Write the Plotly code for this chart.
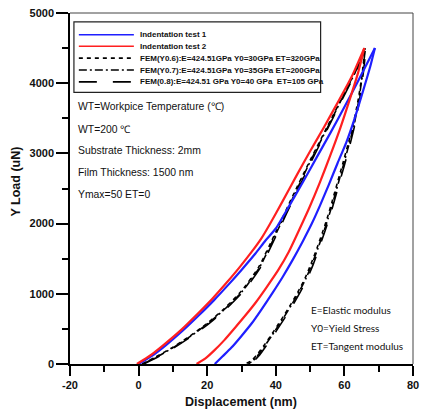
import plotly.graph_objects as go

# ---- measured curves: displacement (nm) vs load (uN) ----
# Indentation test 1 (blue)
t1_load_x = [0, 4, 8, 13, 17.5, 22, 26, 30, 34, 37, 40, 44, 48, 52, 56, 60, 64, 68.9]
t1_load_y = [0, 120, 270, 480, 690, 910, 1120, 1340, 1570, 1760, 1930, 2260, 2600, 2950, 3300, 3660, 4030, 4500]
t1_unload_x = [68.9, 67.5, 65.5, 63, 60.5, 58, 55.5, 53, 50.5, 48, 45, 42, 39, 36, 33, 30, 27, 24.5, 22.2]
t1_unload_y = [4500, 4230, 3900, 3500, 3150, 2860, 2560, 2270, 2000, 1760, 1490, 1240, 1010, 790, 580, 400, 230, 110, 0]

# Indentation test 2 (red)
t2_load_x = [-0.5, 3.5, 7.5, 12.5, 17, 21.5, 25.5, 29.3, 33, 35.8, 38, 42, 46, 50, 54, 58, 62, 65.8]
t2_load_y = [0, 125, 280, 490, 705, 930, 1150, 1370, 1600, 1790, 1970, 2320, 2680, 3030, 3370, 3720, 4080, 4500]
t2_unload_x = [65.8, 64, 61.7, 58.8, 55.8, 52.8, 49.8, 46.8, 43.8, 40.6, 37.4, 34.2, 31.1, 28, 25, 22, 19.5, 16.9]
t2_unload_y = [4500, 4150, 3790, 3360, 2960, 2580, 2230, 1910, 1600, 1330, 1100, 880, 690, 510, 340, 190, 80, 0]

# FEM simulations (loading followed by unloading)
fem_load_y = [0, 100, 240, 400, 580, 790, 1040, 1380, 1880, 2400, 2900, 3380, 3860, 4150, 4500]
fem_unload_y = [4500, 4140, 3760, 3400, 3120, 2850, 2590, 2330, 2080, 1860, 1650, 1430, 1220, 1030,
                860, 700, 550, 400, 260, 130, 40, 0]

fem6_load_x = [1, 5, 10, 15, 20, 25, 30, 35, 40, 45, 50, 55, 60, 63, 66]
fem6_unload_x = [66, 65.2, 64, 62.5, 61, 59.5, 58, 56.5, 55, 53.5, 52, 50.3, 48.5, 46.5,
                 44.5, 42.5, 40.5, 38.5, 36.5, 34.5, 32.7, 31]

fem7_load_x = [1.2, 5.3, 10.3, 15.3, 20.3, 25.3, 30.3, 35.3, 40.3, 45.3, 50.2, 55.2, 60.1, 63.1, 66.1]
fem7_unload_x = [66.1, 65.3, 64.2, 62.8, 61.3, 59.8, 58.3, 56.8, 55.3, 53.8, 52.3, 50.6, 48.8, 46.8,
                 44.8, 42.8, 40.8, 38.8, 36.8, 34.9, 33.2, 32]

fem8_load_x = [1.5, 5.6, 10.6, 15.6, 20.6, 25.6, 30.6, 35.6, 40.6, 45.6, 50.5, 55.4, 60.3, 63.3, 66.3]
fem8_unload_x = [66.3, 65.5, 64.4, 63, 61.6, 60.1, 58.6, 57.1, 55.6, 54.1, 52.6, 51, 49.2, 47.2,
                 45.2, 43.2, 41.2, 39.2, 37.2, 35.3, 33.6, 33]

legend_labels = [
    "Indentation test 1",
    "Indentation test 2",
    "FEM(Y0.6):E=424.51GPa Y0=30GPa ET=320GPa",
    "FEM(Y0.7):E=424.51GPa Y0=35GPa ET=200GPa",
    "FEM(0.8):E=424.51 GPa Y0=40 GPa  ET=105 GPa",
]
legend_colors = ["#1f1fff", "#ff1f1f", "black", "black", "black"]
legend_dashes = ["solid", "solid", "4px,4px", "8px,3px,2px,3px", "18px,16px"]

info_lines = ["WT=Workpice Temperature (℃)", "WT=200 ℃", "Substrate Thickness: 2mm",
              "Film Thickness: 1500 nm", "Ymax=50 ET=0"]
note_lines = ["E=Elastic modulus", "Y0=Yield Stress", "ET=Tangent modulus"]

x_ticks = [-20, 0, 20, 40, 60, 80]
x_tick_text = ["-20", "0", "20", "40", "60", "80"]
y_ticks = [0, 1000, 2000, 3000, 4000, 5000]

W, H = 426, 415
ML, MR, MT, MB = 70, 7, 10, 51
PW, PH = W - ML - MR, H - MT - MB


def px(x):
    return (x - ML) / PW


def py(y):
    return (H - MB - y) / PH


fig = go.Figure()

fem_style = [
    (fem6_load_x + fem6_unload_x, "4px,4px"),
    (fem7_load_x + fem7_unload_x, "8px,3px,2px,3px"),
    (fem8_load_x + fem8_unload_x, "18px,16px"),
]
for fx, dash in fem_style:
    fig.add_trace(go.Scatter(x=fx, y=fem_load_y + fem_unload_y, mode="lines",
                             line=dict(color="black", width=1.6, dash=dash, shape="spline", smoothing=0.6)))

for xs, ys in [(t1_load_x, t1_load_y), (t1_unload_x, t1_unload_y)]:
    fig.add_trace(go.Scatter(x=xs, y=ys, mode="lines",
                             line=dict(color=legend_colors[0], width=2.2, shape="spline", smoothing=0.6)))
for xs, ys in [(t2_load_x, t2_load_y), (t2_unload_x, t2_unload_y)]:
    fig.add_trace(go.Scatter(x=xs, y=ys, mode="lines",
                             line=dict(color=legend_colors[1], width=2.2, shape="spline", smoothing=0.6)))

shapes = []
annotations = []

# legend box
shapes.append(dict(type="rect", xref="paper", yref="paper",
                   x0=px(74), x1=px(325), y0=py(90), y1=py(19),
                   line=dict(color="#222", width=1.2), fillcolor="white"))
rows = [32, 43.5, 55.5, 67.5, 79.5]
for r, lab, col, dash in zip(rows, legend_labels, legend_colors, legend_dashes):
    shapes.append(dict(type="line", xref="paper", yref="paper",
                       x0=px(79), x1=px(135), y0=py(r), y1=py(r),
                       line=dict(color=col, width=1.6, dash=dash)))
    annotations.append(dict(text=lab, xref="paper", yref="paper", x=px(139), y=py(r),
                            xanchor="left", yanchor="middle", showarrow=False,
                            font=dict(family="Arial, Liberation Sans", size=8, color="#111", weight="bold")))

for yy, t in zip([104, 127, 149, 171, 193], info_lines):
    annotations.append(dict(text=t, xref="paper", yref="paper", x=px(76), y=py(yy),
                            xanchor="left", yanchor="middle", showarrow=False,
                            font=dict(family="Arial, Liberation Sans", size=10.4, color="#111")))

for yy, t in zip([310, 328, 346], note_lines):
    annotations.append(dict(text=t, xref="paper", yref="paper", x=px(313), y=py(yy),
                            xanchor="left", yanchor="middle", showarrow=False,
                            font=dict(family="Lato", size=10, color="#111")))

# axis titles
annotations.append(dict(text="Displacement (nm)", xref="paper", yref="paper", x=px(244), y=py(402),
                        xanchor="center", yanchor="middle", showarrow=False,
                        font=dict(family="Arial, Liberation Sans", size=12.5, color="#111", weight="bold")))
annotations.append(dict(text="Y Load (uN)", xref="paper", yref="paper", x=px(15), y=py(180),
                        xanchor="center", yanchor="middle", showarrow=False, textangle=-90,
                        font=dict(family="Arial, Liberation Sans", size=12.5, color="#111", weight="bold")))

axis_font = dict(family="Arial, Liberation Sans", size=11, color="#111", weight="bold")
fig.update_xaxes(range=[-20, 80], tickvals=x_ticks, ticktext=x_tick_text, ticks="outside", ticklen=10,
                 tickwidth=1.5, tickcolor="black", showline=True, linecolor="black", linewidth=1.5,
                 mirror=False, showgrid=False, zeroline=False, tickfont=axis_font,
                 minor=dict(dtick=10, tick0=0, ticks="outside", ticklen=6, tickwidth=1.5, tickcolor="black"))
fig.update_yaxes(range=[0, 5000], tickvals=y_ticks, ticks="outside", ticklen=12, tickwidth=1.5,
                 tickcolor="black", showline=True, linecolor="black", linewidth=1.5, mirror=False,
                 showgrid=False, zeroline=False, tickfont=axis_font,
                 minor=dict(dtick=500, tick0=0, ticks="outside", ticklen=6, tickwidth=1.5, tickcolor="black"))

# frame top and right
shapes.append(dict(type="line", xref="paper", yref="paper", x0=0, x1=1, y0=1, y1=1,
                   line=dict(color="#444", width=1)))
shapes.append(dict(type="line", xref="paper", yref="paper", x0=1, x1=1, y0=0, y1=1,
                   line=dict(color="#444", width=1)))

fig.update_layout(width=W, height=H, margin=dict(l=ML, r=MR, t=MT, b=MB),
                  plot_bgcolor="white", paper_bgcolor="white", showlegend=False,
                  shapes=shapes, annotations=annotations)

fig.write_html("out.html")
